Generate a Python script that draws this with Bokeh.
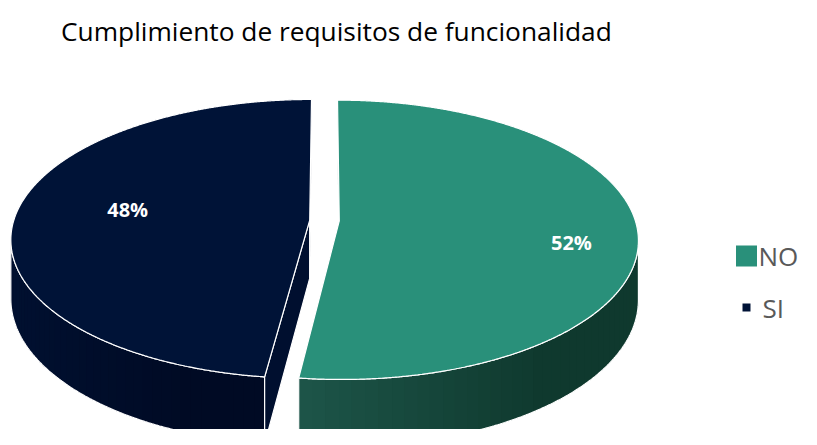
import numpy as np
from bokeh.plotting import figure
from bokeh.models import Range1d
from bokeh.embed import file_html
from bokeh.resources import INLINE
from bokeh.core.properties import value

# ---------------- data ----------------
title_text = "Cumplimiento de requisitos de funcionalidad"
categories = ["NO", "SI"]
percentages = [52, 48]
pct_labels = ["52%", "48%"]

# ---------------- style ----------------
top_colors = ["#29907a", "#001337"]
side_light = ["#1d5549", "#001030"]
side_dark = ["#0f392e", "#000a24"]
face_colors = ["#0f392e", "#000f2f"]
FONT = "Open Sans"

W, H = 801, 429          # plot size in pixels (1 data unit = 1 pixel)
TOP_BORDER = 52

# perspective pie geometry (pixels)
CX, CY = 324.0, 220.0
SX, TY = 296.0, 137.0
K = 0.135
DEPTH = 58.0
EXPLODE = 0.05
LABEL_R = [0.78, 0.62]
LABEL_DY = [15.0, -5.0]


def project(X, Z, down=0.0):
    X = np.asarray(X, dtype=float)
    Z = np.asarray(Z, dtype=float)
    d = 1.0 + K * Z
    return CX + SX * X / d, CY - TY * Z / d + DEPTH * down / d


def hex2rgb(h):
    h = h.lstrip("#")
    return np.array([int(h[i:i + 2], 16) for i in (0, 2, 4)], dtype=float)


def lerp_color(c1, c2, f):
    c = hex2rgb(c1) * (1 - f) + hex2rgb(c2) * f
    return "#%02x%02x%02x" % tuple(int(round(v)) for v in c)


p = figure(width=W, height=H,
           x_range=Range1d(0, W),
           y_range=Range1d(H, TOP_BORDER),
           output_backend="svg", toolbar_location=None,
           x_axis_type=None, y_axis_type=None,
           min_border_left=0, min_border_right=0,
           min_border_bottom=0, min_border_top=TOP_BORDER,
           title=title_text)
p.outline_line_color = None
p.background_fill_color = "white"
p.border_fill_color = "white"
p.title.text_font = FONT
p.title.text_font_size = "26.3px"
p.title.text_font_style = "normal"
p.title.text_color = "#000000"
p.title.align = "left"
p.title.offset = 60.5
p.title.standoff = 7

base_xs, base_ys, base_cols = [], [], []
strip_xs, strip_ys, strip_cols = [], [], []
face_xs, face_ys, face_cols = [], [], []
top_xs, top_ys, top_cols = [], [], []
lab_x, lab_y = [], []

total = float(sum(percentages))
start = 90.0
for i, v in enumerate(percentages):
    sweep = 360.0 * v / total
    a0, a1 = start, start - sweep
    start = a1
    mid = np.radians((a0 + a1) / 2.0)
    ex, ez = EXPLODE * np.cos(mid), EXPLODE * np.sin(mid)
    th = np.radians(np.linspace(a0, a1, 800))
    rX, rZ = ex + np.cos(th), ez + np.sin(th)

    # visible outer side
    vis = (-ex * np.cos(th) - 1.0 - np.sin(th) / K - ez * np.sin(th)) > 0
    sth = th[vis]
    if len(sth) > 2:
        sX, sZ = ex + np.cos(sth), ez + np.sin(sth)
        tx, ty = project(sX, sZ, 0.0)
        bx, by = project(sX, sZ, 1.0)
        base_xs.append(list(np.concatenate([tx, bx[::-1]])))
        base_ys.append(list(np.concatenate([ty, by[::-1]])))
        base_cols.append(lerp_color(side_light[i], side_dark[i], 0.6))
        n = 40
        bnd = np.linspace(0, len(sth) - 1, n + 1).astype(int)
        xmin, xmax = tx.min(), tx.max()
        for j in range(n):
            s0, s1 = bnd[j], min(len(sth), bnd[j + 1] + 2)
            xs = np.concatenate([tx[s0:s1], bx[s0:s1][::-1]])
            ys = np.concatenate([ty[s0:s1], by[s0:s1][::-1]])
            f = (xs.mean() - xmin) / (xmax - xmin)
            strip_xs.append(list(xs))
            strip_ys.append(list(ys))
            strip_cols.append(lerp_color(side_light[i], side_dark[i], min(1.0, f * 1.4)))

    # cut faces
    for phi, nang in ((a0, a0 + 90.0), (a1, a1 - 90.0)):
        nX, nZ = np.cos(np.radians(nang)), np.sin(np.radians(nang))
        if nX * (0 - ex) + nZ * (-1.0 / K - ez) > 0:
            pX = ex + np.cos(np.radians(phi))
            pZ = ez + np.sin(np.radians(phi))
            fx, fy = [], []
            for (X, Z, dn) in ((ex, ez, 0), (pX, pZ, 0), (pX, pZ, 1), (ex, ez, 1)):
                px, py = project(X, Z, dn)
                fx.append(float(px))
                fy.append(float(py))
            face_xs.append(fx)
            face_ys.append(fy)
            face_cols.append(face_colors[i])

    # top face
    cx, cy = project(ex, ez, 0.0)
    rx, ry = project(rX, rZ, 0.0)
    top_xs.append([float(cx)] + list(rx) + [float(cx)])
    top_ys.append([float(cy)] + list(ry) + [float(cy)])
    top_cols.append(top_colors[i])

    # label
    lx, ly = project(ex + LABEL_R[i] * np.cos(mid), ez + LABEL_R[i] * np.sin(mid), 0.0)
    lab_x.append(float(lx))
    lab_y.append(float(ly) + LABEL_DY[i])

p.patches(base_xs, base_ys, fill_color=base_cols, line_color=None)
p.patches(strip_xs, strip_ys, fill_color=strip_cols, line_color=None)
p.patches(base_xs, base_ys, fill_alpha=0, line_color="white", line_width=1.2)
p.patches(face_xs, face_ys, fill_color=face_cols, line_color="white", line_width=1.2)
p.patches(top_xs, top_ys, fill_color=top_cols, line_color="white", line_width=1.2)

p.text(x=lab_x, y=lab_y, text=pct_labels, text_font=value(FONT),
       text_font_size=value("20px"), text_font_style="bold", text_color="white",
       text_align="center", text_baseline="middle")

# legend (manual, Excel-like), kept inside the 801 px wide plot
LEG_MX = 746.0
LEG_ROW_Y = [255.5, 307.0]
LEG_MARK = [21, 8]
LEG_TX = [758.0, 762.0]
LEG_TEXT_Y = [255.5, 307.5]
p.rect(x=[LEG_MX] * 2, y=LEG_ROW_Y, width=LEG_MARK, height=LEG_MARK,
       width_units="screen", height_units="screen",
       fill_color=top_colors, line_color=None)
p.text(x=LEG_TX, y=LEG_TEXT_Y, text=categories, text_font=value(FONT),
       text_font_size=value("26px"), text_color="#595959",
       text_align="left", text_baseline="middle")

open("out.html", "w").write(file_html(p, INLINE))
